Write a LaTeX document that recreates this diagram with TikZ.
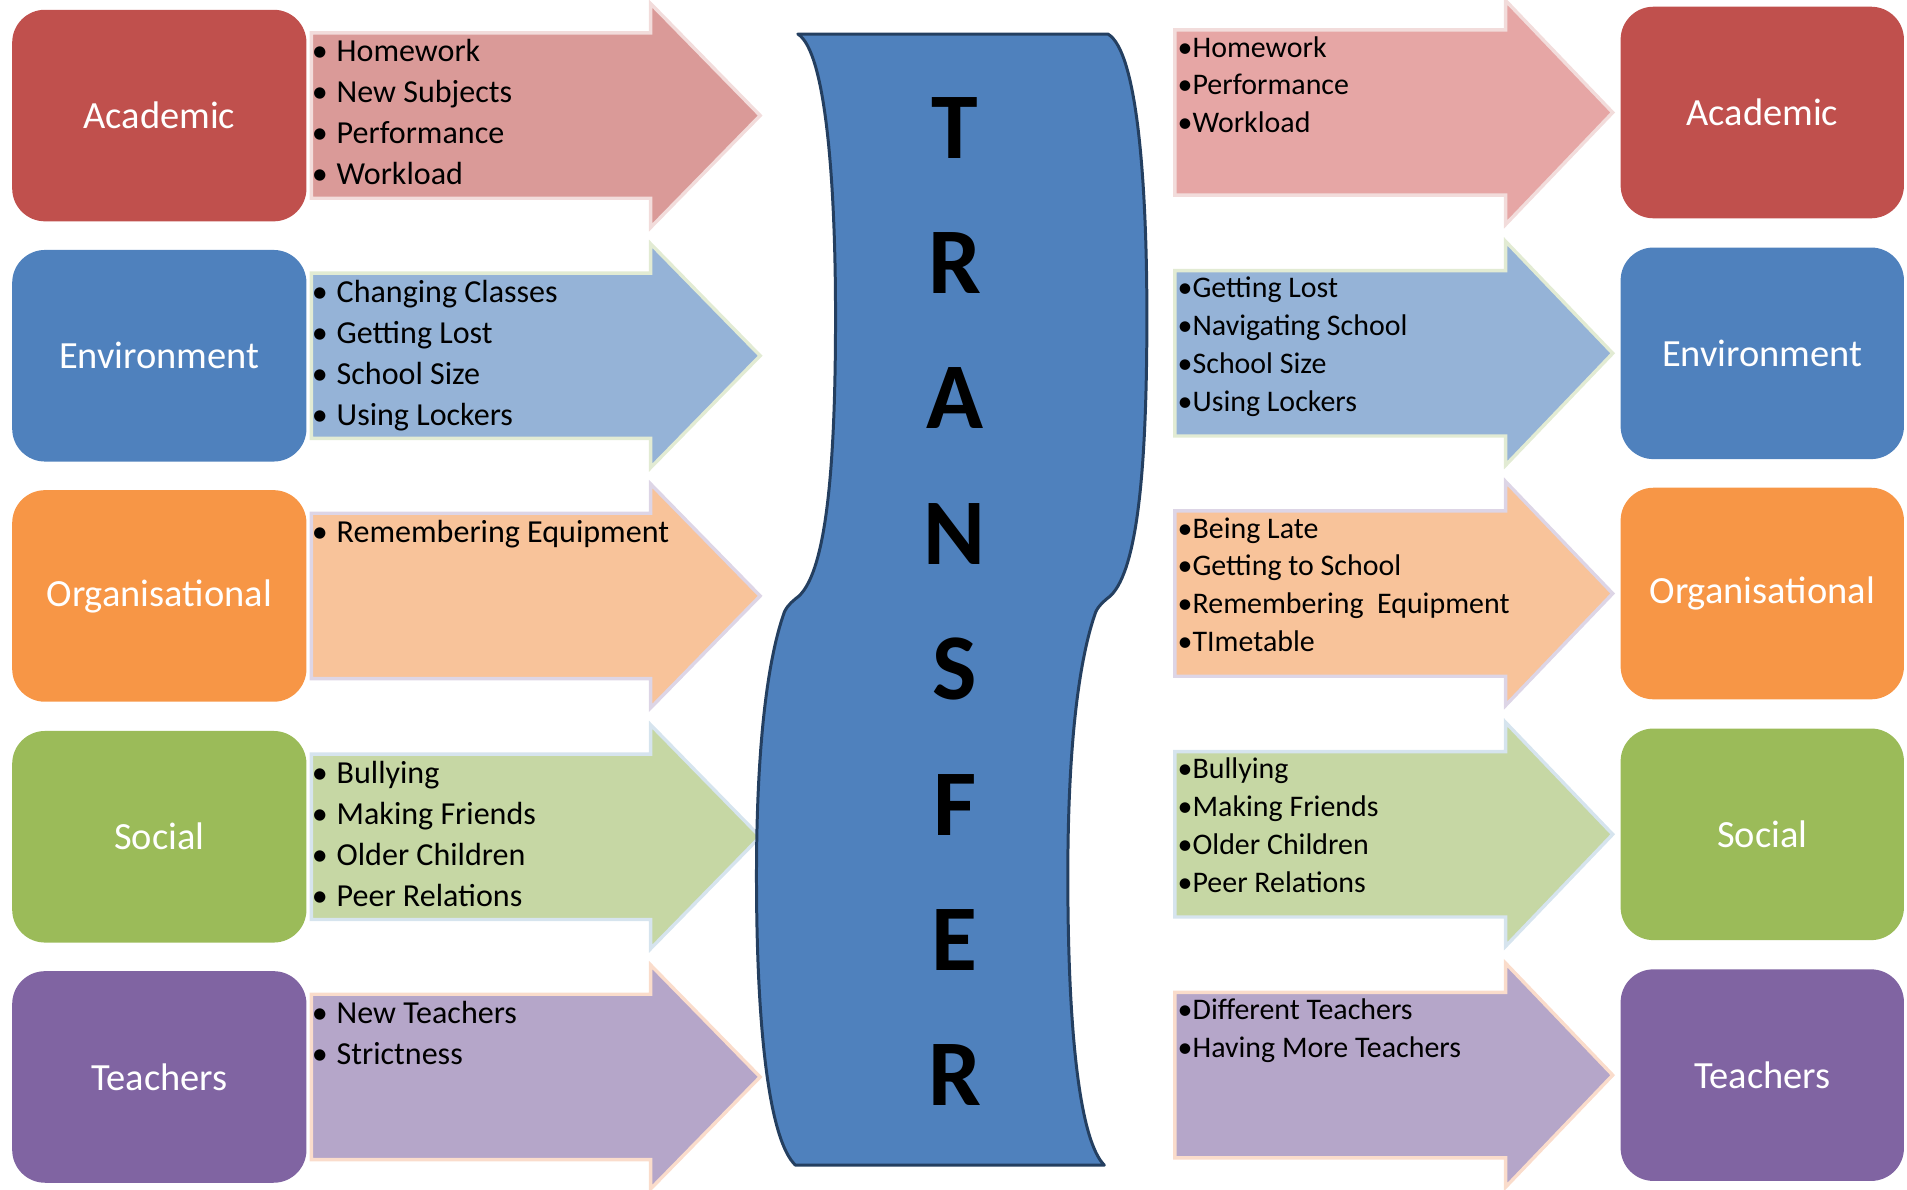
\documentclass[tikz,border=0pt]{standalone}
\usepackage{fontspec}
\setmainfont{Carlito}

% box colours
\definecolor{acadred}{HTML}{C0504D}
\definecolor{envblue}{HTML}{4F81BD}
\definecolor{orgorange}{HTML}{F79646}
\definecolor{socgreen}{HTML}{9BBB59}
\definecolor{teachpurple}{HTML}{8064A2}
% arrow colours
\definecolor{acadarrow}{HTML}{DA9A98}
\definecolor{acadarrowR}{HTML}{E6A6A5}
\definecolor{envarrow}{HTML}{95B3D7}
\definecolor{orgarrow}{HTML}{F8C39A}
\definecolor{socarrow}{HTML}{C6D7A4}
\definecolor{teacharrow}{HTML}{B5A6C9}
% arrow glow
\definecolor{acadglow}{HTML}{F2DCDB}
\definecolor{envglow}{HTML}{E2EBD3}
\definecolor{orgglow}{HTML}{DDD5E6}
\definecolor{socglow}{HTML}{D6E4EE}
\definecolor{teachglow}{HTML}{FADCCB}
% banner
\definecolor{bannerblue}{HTML}{4F81BD}
\definecolor{bannernavy}{HTML}{243F60}

\newcommand{\lbul}{\makebox[0.41cm][l]{•}}

\tikzset{
  catbox/.style={rounded corners=0.54cm, minimum height=3.48cm, inner sep=0pt,
    text=white, font=\fontsize{18}{22}\selectfont},
  leftitem/.style={anchor=base west, inner sep=0pt, font=\fontsize{15}{18}\selectfont},
  rightitem/.style={anchor=base west, inner sep=0pt, font=\fontsize{14}{17}\selectfont},
  blockarrow/.style={line width=1.6pt, line join=miter},
  banletter/.style={inner sep=0pt, font=\fontsize{44}{50}\selectfont\bfseries},
}

\begin{document}
\begin{tikzpicture}[x=0.02cm, y=-0.02cm]
	\useasboundingbox (0,0) rectangle (1568,978);

	% Left arrows
	\foreach \c/\fc/\bc in {95/acadarrow/acadglow, 292.5/envarrow/envglow, 490/orgarrow/orgglow,
	  688/socarrow/socglow, 885.5/teacharrow/teachglow}
	  \draw[blockarrow, draw=\bc, fill=\fc] (256,\c-68) -- (535,\c-68) -- (535,\c-92) -- (625,\c)
	    -- (535,\c+92) -- (535,\c+68) -- (256,\c+68) -- cycle;

	% Right arrows
	\foreach \c/\fc/\bc in {92.5/acadarrowR/acadglow, 290.5/envarrow/envglow, 488/orgarrow/orgglow,
	  686/socarrow/socglow, 884/teacharrow/teachglow}
	  \draw[blockarrow, draw=\bc, fill=\fc] (966,\c-68) -- (1238,\c-68) -- (1238,\c-92) -- (1326,\c)
	    -- (1238,\c+92) -- (1238,\c+68) -- (966,\c+68) -- cycle;

	% Left boxes
	\node[catbox, minimum width=4.84cm, fill=acadred] (lacad) at (131,95) {Academic};
	\node[catbox, minimum width=4.84cm, fill=envblue] (lenv) at (131,292.5) {Environment};
	\node[catbox, minimum width=4.84cm, fill=orgorange] (lorg) at (131,490) {Organisational};
	\node[catbox, minimum width=4.84cm, fill=socgreen] (lsoc) at (131,688) {Social};
	\node[catbox, minimum width=4.84cm, fill=teachpurple] (lteach) at (131,885.5) {Teachers};

	% Right boxes
	\node[catbox, minimum width=4.66cm, fill=acadred] (racad) at (1449,92.5) {Academic};
	\node[catbox, minimum width=4.66cm, fill=envblue] (renv) at (1449,290.5) {Environment};
	\node[catbox, minimum width=4.66cm, fill=orgorange] (rorg) at (1449,488) {Organisational};
	\node[catbox, minimum width=4.66cm, fill=socgreen] (rsoc) at (1449,686) {Social};
	\node[catbox, minimum width=4.66cm, fill=teachpurple] (rteach) at (1449,884) {Teachers};

	% Left lists
	\foreach \t [count=\i] in {Homework, New Subjects, Performance, Workload}
	  \node[leftitem] (lacad-\i) at (256,50.5+33.7*\i-33.7) {\lbul\t};
	\foreach \t [count=\i] in {Changing Classes, Getting Lost, School Size, Using Lockers}
	  \node[leftitem] (lenv-\i) at (256,248.5+33.7*\i-33.7) {\lbul\t};
	\node[leftitem] (lorg-1) at (256,446) {\lbul Remembering Equipment};
	\foreach \t [count=\i] in {Bullying, Making Friends, Older Children, Peer Relations}
	  \node[leftitem] (lsoc-\i) at (256,644+33.7*\i-33.7) {\lbul\t};
	\foreach \t [count=\i] in {New Teachers, Strictness}
	  \node[leftitem] (lteach-\i) at (256,841.5+33.7*\i-33.7) {\lbul\t};

	% Right lists
	\foreach \t [count=\i] in {Homework, Performance, Workload}
	  \node[rightitem] (racad-\i) at (968,47+31*\i-31) {•\t};
	\foreach \t [count=\i] in {Getting Lost, Navigating School, School Size, Using Lockers}
	  \node[rightitem] (renv-\i) at (968,245+31*\i-31) {•\t};
	\foreach \t [count=\i] in {Being Late, Getting to School, Remembering~ Equipment, TImetable}
	  \node[rightitem] (rorg-\i) at (968,442.5+31*\i-31) {•\t};
	\foreach \t [count=\i] in {Bullying, Making Friends, Older Children, Peer Relations}
	  \node[rightitem] (rsoc-\i) at (968,640.5+31*\i-31) {•\t};
	\foreach \t [count=\i] in {Different Teachers, Having More Teachers}
	  \node[rightitem] (rteach-\i) at (968,838.5+31*\i-31) {•\t};

	% Banner
	\draw[line width=1.4pt, fill=bannerblue, draw=bannernavy, line join=round]
	  (656,28) -- (911,28)
	  .. controls (935,42) and (943,150) .. (943,260)
	  .. controls (943,380) and (936,468) .. (913,490)
	  .. controls (908,494) and (904,497) .. (901,503)
	  .. controls (886,545) and (878,620) .. (878,720)
	  .. controls (878,850) and (888,938) .. (908,958)
	  -- (654,958)
	  .. controls (633,938) and (622,850) .. (622,720)
	  .. controls (622,620) and (630,545) .. (645,503)
	  .. controls (648,497) and (652,494) .. (657,490)
	  .. controls (680,468) and (687,380) .. (687,260)
	  .. controls (687,150) and (679,42) .. (656,28) -- cycle;

	% Banner letters
	\foreach \l [count=\i] in {T,R,A,N,S,F,E,R}
	  \node[banletter] (ban-\i) at (785,105+111.3*\i-111.3) {\l};
\end{tikzpicture}
\end{document}
